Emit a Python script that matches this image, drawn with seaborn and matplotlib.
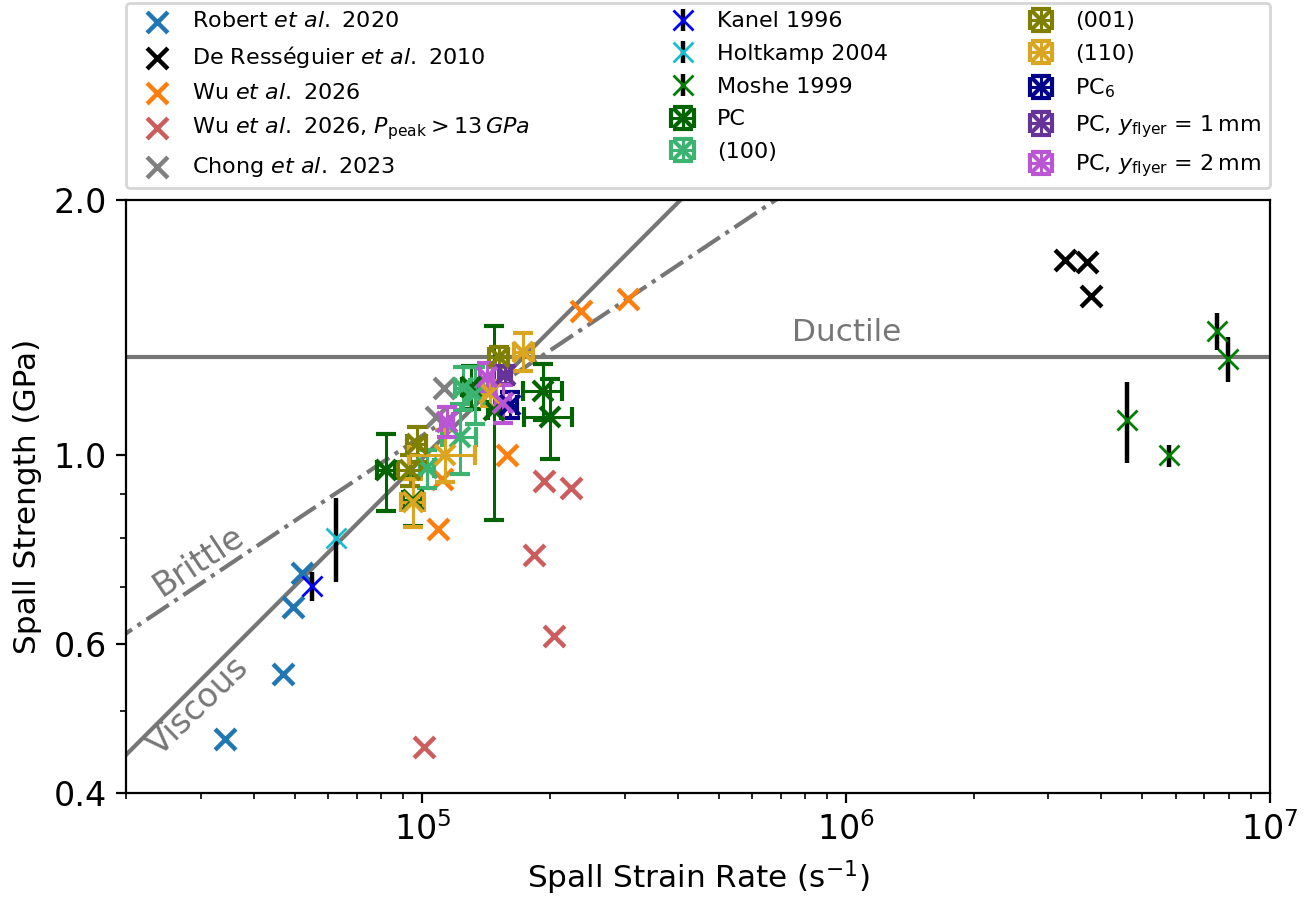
import numpy as np
import matplotlib
matplotlib.use("Agg")
import matplotlib.pyplot as plt
import matplotlib.ticker as mticker
import seaborn as sns

plt.rcParams['font.family'] = ['DejaVu Sans']
plt.rcParams['mathtext.fontset'] = 'dejavusans'

# ---------------- data ----------------
robert_x = [3.42e4, 4.69e4, 4.94e4, 5.20e4]
robert_y = [0.463, 0.552, 0.662, 0.726]

deres_x = [3.28e6, 3.69e6, 3.79e6]
deres_y = [1.70, 1.69, 1.54]

wu_x = [1.09e5, 1.11e5, 1.58e5, 2.37e5, 3.06e5]
wu_y = [0.819, 0.938, 1.00, 1.48, 1.53]

wuhp_x = [1.01e5, 1.83e5, 1.94e5, 2.04e5, 2.24e5]
wuhp_y = [0.453, 0.763, 0.933, 0.612, 0.916]

chong_x = [1.08e5, 1.125e5]
chong_y = [1.11, 1.20]

kanel_x = [5.48e4]
kanel_y = [0.701]
kanel_err = [0.028]

holt_x = [6.26e4]
holt_y = [0.80]
holt_err = [0.09]

moshe_x = [4.59e6, 5.78e6, 7.48e6, 7.97e6]
moshe_y = [1.10, 1.00, 1.40, 1.30]
moshe_err = [0.12, 0.03, 0.07, 0.08]

pc_x = [8.2e4, 9.5e4, 1.30e5, 1.48e5, 1.93e5, 2.00e5]
pc_y = [0.961, 0.886, 1.204, 1.13, 1.19, 1.11]
pc_yerr = [0.10, 0.06, 0.07, 0.29, 0.09, 0.12]
pc_xerr = [4e3, 5e3, 6e3, 5e3, 2.0e4, 2.6e4]

p100_x = [1.026e5, 1.227e5, 1.247e5, 1.332e5]
p100_y = [0.966, 1.05, 1.20, 1.18]
p100_yerr = [0.05, 0.10, 0.07, 0.09]
p100_xerr = [4e3, 1.15e4, 5e3, 6e3]

p001_x = [9.35e4, 9.72e4, 1.517e5]
p001_y = [0.961, 1.031, 1.306]
p001_yerr = [0.04, 0.05, 0.035]
p001_xerr = [6e3, 5e3, 8e3]

p110_x = [9.51e4, 1.13e5, 1.444e5, 1.731e5]
p110_y = [0.881, 1.00, 1.184, 1.325]
p110_yerr = [0.057, 0.07, 0.04, 0.068]
p110_xerr = [6e3, 2.0e4, 5e3, 9e3]

pc6_x = [1.61e5]
pc6_y = [1.147]
pc6_yerr = [0.04]
pc6_xerr = [6e3]

pc1_x = [1.567e5]
pc1_y = [1.244]
pc1_yerr = [0.03]
pc1_xerr = [5e3]

pc2_x = [1.144e5, 1.419e5, 1.553e5]
pc2_y = [1.095, 1.238, 1.152]
pc2_yerr = [0.045, 0.046, 0.06]
pc2_xerr = [4e3, 5e3, 6e3]

# model lines
ductile_level = 1.305
viscous_coef, viscous_exp = 0.992, 0.5      # sigma = c*(rate/1e5)^n
brittle_coef, brittle_exp = 1.055, 1.0 / 3.0

yticks = [0.4, 0.6, 1.0, 2.0]
ytick_labels = ['0.4', '0.6', '1.0', '2.0']

# ---------------- figure ----------------
fig = plt.figure(figsize=(6.565, 4.495), dpi=200)
ax = fig.add_axes([0.0960, 0.1179, 0.8713, 0.6596])
ax.set_xscale('log')
ax.set_yscale('log')

line_col = '#767676'
xx = np.logspace(np.log10(1.5e4), np.log10(1.2e7), 200)
ax.axhline(ductile_level, color=line_col, lw=1.5, zorder=1)
ax.plot(xx, viscous_coef * (xx / 1e5) ** viscous_exp, color=line_col, lw=1.5, zorder=1)
ax.plot(xx, brittle_coef * (xx / 1e5) ** brittle_exp, color=line_col, lw=1.5, ls='-.', zorder=1)

sc_kw = dict(marker='x', s=56, linewidth=1.6, ax=ax, zorder=2)
sns.scatterplot(x=robert_x, y=robert_y, color='tab:blue', label=r'Robert $et\ al.$ 2020', **sc_kw)
sns.scatterplot(x=deres_x, y=deres_y, color='black', label=r'De Rességuier $et\ al.$ 2010', **sc_kw)
sns.scatterplot(x=wu_x, y=wu_y, color='tab:orange', label=r'Wu $et\ al.$ 2026', **sc_kw)
sns.scatterplot(x=wuhp_x, y=wuhp_y, color='indianred',
                label=r'Wu $et\ al.$ 2026, $P_\mathrm{peak} > 13\,GPa$', **sc_kw)
sns.scatterplot(x=chong_x, y=chong_y, color='gray', label=r'Chong $et\ al.$ 2023', **sc_kw)

eb_kw = dict(fmt='x', ecolor='black', elinewidth=1.6, capsize=0, markersize=7.5, mew=1.0, zorder=3)
ax.errorbar(kanel_x, kanel_y, yerr=kanel_err, color='blue', label='Kanel 1996', **eb_kw)
ax.errorbar(holt_x, holt_y, yerr=holt_err, color='tab:cyan', label='Holtkamp 2004', **eb_kw)
ax.errorbar(moshe_x, moshe_y, yerr=moshe_err, color='green', label='Moshe 1999', **eb_kw)

pe_kw = dict(fmt='x', capsize=3.5, elinewidth=1.1, capthick=1.1, markersize=7.5, mew=1.5, zorder=4)
ax.errorbar(pc_x, pc_y, yerr=pc_yerr, xerr=pc_xerr, color='darkgreen', label='PC', **pe_kw)
ax.errorbar(p100_x, p100_y, yerr=p100_yerr, xerr=p100_xerr, color='mediumseagreen', label='(100)', **pe_kw)
ax.errorbar(p001_x, p001_y, yerr=p001_yerr, xerr=p001_xerr, color='olive', label='(001)', **pe_kw)
ax.errorbar(p110_x, p110_y, yerr=p110_yerr, xerr=p110_xerr, color='goldenrod', label='(110)', **pe_kw)
ax.errorbar(pc6_x, pc6_y, yerr=pc6_yerr, xerr=pc6_xerr, color='darkblue', label=r'PC$_6$', **pe_kw)
ax.errorbar(pc1_x, pc1_y, yerr=pc1_yerr, xerr=pc1_xerr, color='rebeccapurple',
            label=r'PC, $y_\mathrm{flyer}$ = 1$\,$mm', **pe_kw)
ax.errorbar(pc2_x, pc2_y, yerr=pc2_yerr, xerr=pc2_xerr, color='mediumorchid',
            label=r'PC, $y_\mathrm{flyer}$ = 2$\,$mm', **pe_kw)

ax.set_xlim(2e4, 1e7)
ax.set_ylim(0.4, 2.0)
ax.yaxis.set_major_locator(mticker.FixedLocator(yticks))
ax.yaxis.set_major_formatter(mticker.FixedFormatter(ytick_labels))
ax.yaxis.set_minor_locator(mticker.LogLocator(base=10, subs=np.arange(2, 10)))
ax.yaxis.set_minor_formatter(mticker.NullFormatter())
ax.tick_params(axis='both', which='major', labelsize=12)

ax.set_xlabel(r'Spall Strain Rate (s$^{-1}$)', fontsize=11.2)
ax.set_ylabel('Spall Strength (GPa)', fontsize=11.2)

ax.text(1e6, 1.395, 'Ductile', color=line_col, fontsize=11.2, ha='center', va='center')
ax.text(2.97e4, 0.751, 'Brittle', color=line_col, fontsize=12, ha='center', va='center', rotation=33.5)
ax.text(2.97e4, 0.506, 'Viscous', color=line_col, fontsize=12, ha='center', va='center', rotation=44)

ax.legend(loc='lower left', bbox_to_anchor=(0, 1.02, 1, 0.2), mode='expand', ncol=3,
          borderaxespad=0, fontsize=8, labelspacing=0.57, handletextpad=0.55)

fig.savefig('out.png', dpi=200)
